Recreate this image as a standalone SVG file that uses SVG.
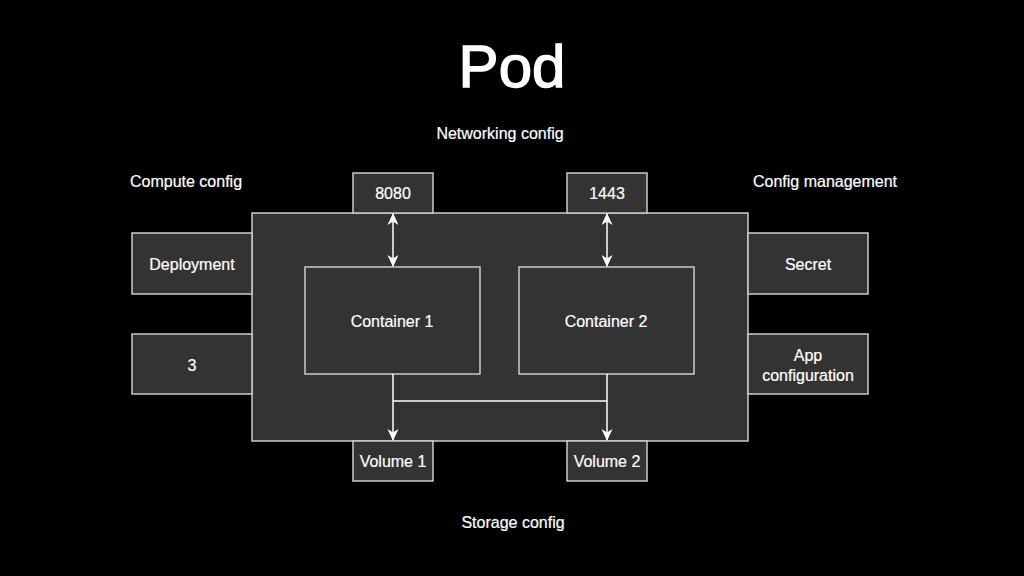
<svg xmlns="http://www.w3.org/2000/svg" width="1024" height="576" viewBox="0 0 1024 576">
<defs>
<style>
.box{fill:#333333;stroke:#cccccc;stroke-width:1.5}
.t{font-family:"Liberation Sans",Arial,sans-serif;font-size:16px;fill:#ffffff;text-anchor:middle;stroke:#ffffff;stroke-width:0.2}
.c{stroke:#ffffff;stroke-width:1.5;fill:none}
</style>
<marker id="ah" viewBox="0 0 12 12" refX="11" refY="6" markerWidth="12" markerHeight="12" markerUnits="userSpaceOnUse" orient="auto-start-reverse">
<path d="M0,0.5 L12,6 L0,11.5 L3.5,6 Z" fill="#ffffff"/>
</marker>
</defs>
<rect width="1024" height="576" fill="#000000"/>
<text x="512" y="87" style="font-family:'Liberation Sans',Arial,sans-serif;font-size:60px;fill:#ffffff;stroke:#ffffff;stroke-width:1.4;text-anchor:middle">Pod</text>
<text class="t" x="500" y="139">Networking config</text>
<text class="t" x="186" y="187">Compute config</text>
<text class="t" x="825" y="187">Config management</text>
<text class="t" x="513" y="528">Storage config</text>
<g id="pod"><rect class="box" x="252" y="213" width="496" height="228"/></g>
<g id="port8080"><rect class="box" x="353" y="173" width="80" height="40"/><text class="t" x="393" y="199">8080</text></g>
<g id="port1443"><rect class="box" x="567" y="173" width="80" height="40"/><text class="t" x="607" y="199">1443</text></g>
<g id="deployment"><rect class="box" x="132" y="233" width="120" height="61"/><text class="t" x="192" y="270">Deployment</text></g>
<g id="replicas"><rect class="box" x="132" y="334" width="120" height="60"/><text class="t" x="192" y="371">3</text></g>
<g id="secret"><rect class="box" x="748" y="233" width="120" height="61"/><text class="t" x="808" y="270">Secret</text></g>
<g id="appconfig"><rect class="box" x="748" y="334" width="120" height="60"/><text class="t" x="808" y="361">App</text><text class="t" x="808" y="381">configuration</text></g>
<g id="container1"><rect class="box" x="305" y="267" width="175" height="107"/><text class="t" x="392" y="327">Container 1</text></g>
<g id="container2"><rect class="box" x="519" y="267" width="175" height="107"/><text class="t" x="606" y="327">Container 2</text></g>
<g id="volume1"><rect class="box" x="353" y="441" width="80" height="40"/><text class="t" x="393" y="467">Volume 1</text></g>
<g id="volume2"><rect class="box" x="567" y="441" width="80" height="40"/><text class="t" x="607" y="467">Volume 2</text></g>
<g id="connectors">
<line class="c" x1="393" y1="214" x2="393" y2="266" marker-start="url(#ah)" marker-end="url(#ah)"/>
<line class="c" x1="607" y1="214" x2="607" y2="266" marker-start="url(#ah)" marker-end="url(#ah)"/>
<line class="c" x1="393" y1="374" x2="393" y2="440" marker-end="url(#ah)"/>
<line class="c" x1="607" y1="374" x2="607" y2="440" marker-end="url(#ah)"/>
<line class="c" x1="393" y1="401" x2="607" y2="401"/>
</g>
</svg>
